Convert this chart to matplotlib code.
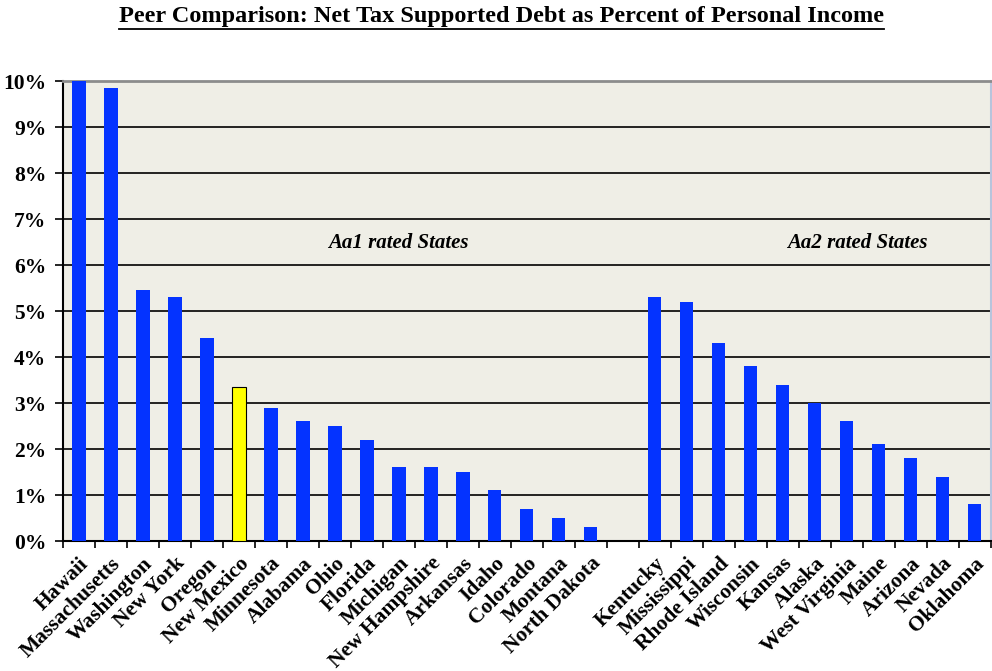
import matplotlib
matplotlib.use("Agg")
import matplotlib.pyplot as plt
from matplotlib.lines import Line2D
from matplotlib.ticker import FixedLocator, PercentFormatter

# ── Data (percent of personal income) ────────────────────────────────────────
aa1_states = ["Hawaii", "Massachusetts", "Washington", "New York", "Oregon",
              "New Mexico", "Minnesota", "Alabama", "Ohio", "Florida",
              "Michigan", "New Hampshire", "Arkansas", "Idaho", "Colorado",
              "Montana", "North Dakota"]
aa1_values = [10.5, 9.85, 5.45, 5.3, 4.42, 3.35, 2.9, 2.6, 2.5, 2.2,
              1.6, 1.6, 1.5, 1.1, 0.7, 0.5, 0.3]

aa2_states = ["Kentucky", "Mississippi", "Rhode Island", "Wisconsin", "Kansas",
              "Alaska", "West Virginia", "Maine", "Arizona", "Nevada",
              "Oklahoma"]
aa2_values = [5.3, 5.2, 4.3, 3.8, 3.4, 3.0, 2.6, 2.1, 1.8, 1.4, 0.8]

highlight = "New Mexico"

# one empty slot separates the two groups
labels = aa1_states + [""] + aa2_states
n = len(labels)
x_aa1 = list(range(len(aa1_states)))
x_aa2 = [len(aa1_states) + 1 + i for i in range(len(aa2_states))]

SERIF = ["Liberation Serif", "DejaVu Serif"]
BLUE = "#0433ff"

fig = plt.figure(figsize=(9.92, 6.71), dpi=100)
ax = fig.add_axes([0.0635, 0.1937, 0.935, 0.6855])
ax.set_facecolor("#efeee6")

bw = 0.42
colors1 = ["#ffff00" if s == highlight else BLUE for s in aa1_states]
edges1 = ["black" if s == highlight else BLUE for s in aa1_states]
ax.bar(x_aa1, aa1_values, width=bw, color=colors1, edgecolor=edges1,
       linewidth=[0.8 if s == highlight else 0 for s in aa1_states], zorder=3)
ax.bar(x_aa2, aa2_values, width=bw, color=BLUE, linewidth=0, zorder=3)

ax.set_xlim(-0.5, n - 0.5)
ax.set_ylim(0, 10)

# horizontal gridlines
ax.yaxis.set_major_locator(FixedLocator(range(0, 11)))
ax.yaxis.set_major_formatter(PercentFormatter(decimals=0))
ax.grid(axis="y", color="black", lw=1.2, zorder=1)
ax.set_axisbelow(True)

# x ticks: labels at centres, tick marks at boundaries
ax.set_xticks(range(n))
ax.set_xticklabels(labels, rotation=45, ha="right", va="top",
                   rotation_mode="anchor", family=SERIF,
                   fontsize=15.5, fontweight="bold")
ax.tick_params(axis="x", which="major", length=0, pad=9)
ax.set_xticks([i - 0.5 for i in range(n + 1)], minor=True)
ax.tick_params(axis="x", which="minor", length=5, width=1.2,
               direction="out", color="black")

ax.tick_params(axis="y", length=6, width=1.2, direction="out", pad=6)
for t in ax.get_yticklabels():
    t.set_family(SERIF)
    t.set_fontsize(15.5)
    t.set_fontweight("bold")

for side in ["left", "bottom"]:
    ax.spines[side].set_color("black")
    ax.spines[side].set_linewidth(1.5)
ax.spines["top"].set_color("#8c8c8c")
ax.spines["top"].set_linewidth(2)
ax.spines["right"].set_color("#b8c4dc")
ax.spines["right"].set_linewidth(1.5)

# group labels
ax.text(9.98, 6.48, "Aa1 rated States", ha="center", va="center",
        family=SERIF, fontsize=15, fontweight="bold", style="italic")
ax.text(24.35, 6.48, "Aa2 rated States", ha="center", va="center",
        family=SERIF, fontsize=15, fontweight="bold", style="italic")

# underlined title
title = fig.text(0.506, 0.975, "Peer Comparison: Net Tax Supported Debt as Percent of Personal Income",
                 ha="center", va="center", family=SERIF,
                 fontsize=17.5, fontweight="bold")
fig.canvas.draw()
bb = title.get_window_extent().transformed(fig.transFigure.inverted())
fig.add_artist(Line2D([bb.x0, bb.x1], [bb.y0 - 0.002, bb.y0 - 0.002],
                      transform=fig.transFigure, color="black", lw=1.3))

fig.savefig("out.png", dpi=100)
